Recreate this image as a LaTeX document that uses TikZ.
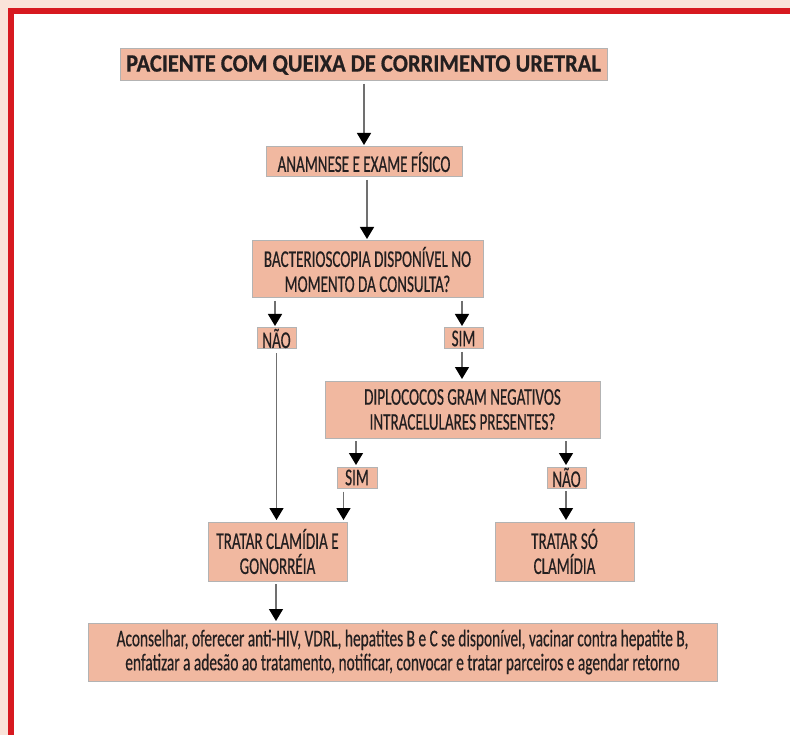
\documentclass[tikz,border=0pt]{standalone}
\usepackage{fontspec}
\setmainfont{Carlito}[FakeStretch=0.63,FakeBold=0.4]
\newfontfamily\finalfont{Carlito}[FakeStretch=0.64,FakeBold=0.4]
\newfontfamily\titlefont{Carlito Bold}[FakeStretch=0.9,FakeBold=0.6]
\usetikzlibrary{arrows.meta}
\definecolor{pagebg}{HTML}{FAE3D9}
\definecolor{frame}{HTML}{D71920}
\definecolor{boxfill}{HTML}{F1B8A0}
\definecolor{boxline}{HTML}{B3B3B3}
\definecolor{ink}{HTML}{231F20}
\definecolor{shaft}{HTML}{707070}
\begin{document}
\begin{tikzpicture}[x=1pt,y=-1pt,
  box/.style={rectangle,draw=boxline,fill=boxfill,line width=1pt,inner sep=0pt,align=center,text=ink,font=\fontsize{24}{25}\selectfont},
  conn/.style={draw=shaft,line width=1.3pt,shorten <=2.5pt,shorten >=1.5pt,-{Triangle[width=14pt,length=12pt,color=black,fill=black]}}]
\useasboundingbox (0,0) rectangle (790,735);
\fill[pagebg] (0,0) rectangle (790,735);
\fill[frame] (8,8) rectangle (790,735);
\fill[white] (14,14) rectangle (790,735);

\node[box,minimum width=487pt,minimum height=32pt,font=\titlefont\fontsize{25}{25}\selectfont] (title) at (363.5,65) {PACIENTE COM QUEIXA DE CORRIMENTO URETRAL};
\node[box,minimum width=196pt,minimum height=30pt] (anam) at (364,162) {ANAMNESE E EXAME FÍSICO};
\node[box,minimum width=231pt,minimum height=57pt] (bact) at (367.5,269.5) {BACTERIOSCOPIA DISPONÍVEL NO\\MOMENTO DA CONSULTA?};
\node[box,minimum width=39pt,minimum height=21pt] (nao1) at (276.5,338.5) {NÃO};
\node[box,minimum width=39pt,minimum height=21pt] (sim1) at (463.5,338.5) {SIM};
\node[box,minimum width=275pt,minimum height=57pt] (dip) at (462.5,409.5) {DIPLOCOCOS GRAM NEGATIVOS\\INTRACELULARES PRESENTES?};
\node[box,minimum width=40pt,minimum height=21pt] (sim2) at (357,477.5) {SIM};
\node[box,minimum width=39pt,minimum height=21pt] (nao2) at (566.5,477.5) {NÃO};
\node[box,minimum width=139pt,minimum height=59pt] (trat1) at (277.5,551.5) {TRATAR CLAMÍDIA E\\GONORRÉIA};
\node[box,minimum width=139pt,minimum height=59pt] (trat2) at (564.5,551.5) {TRATAR SÓ\\CLAMÍDIA};
\node[box,minimum width=629pt,minimum height=58pt,font=\finalfont\fontsize{24}{24}\selectfont] (final) at (402.5,652) {Aconselhar, oferecer anti-HIV, VDRL, hepatites B e C se disponível, vacinar contra hepatite B,\\enfatizar a adesão ao tratamento, notificar, convocar e tratar parceiros e agendar retorno};

\coordinate (c1) at ([xshift=0.5pt]title.south);
\coordinate (c2) at ([xshift=-0.5pt]bact.north);
\coordinate (c3) at ([xshift=-1.5pt]nao1.north);
\coordinate (c4) at ([xshift=-1.5pt]sim1.north);
\coordinate (c5) at ([xshift=-1pt]sim2.north);
\coordinate (c6) at ([xshift=-0.5pt]nao2.north);
\coordinate (c7) at ([xshift=-4pt]trat1.north east);
\coordinate (c8) at ([xshift=-1.5pt]trat1.south);

\draw[conn] (c1) -- (c1 |- anam.north);
\draw[conn] (c2 |- anam.south) -- (c2);
\draw[conn] (c3 |- bact.south) -- (c3);
\draw[conn] (c4 |- bact.south) -- (c4);
\draw[conn] (c4 |- sim1.south) -- (c4 |- dip.north);
\draw[conn,shorten <=4pt] (nao1.south) -- (nao1.south |- trat1.north);
\draw[conn] (c5 |- dip.south) -- (c5);
\draw[conn] (c6 |- dip.south) -- (c6);
\draw[conn,shorten <=3pt] (c7 |- sim2.south) -- (c7);
\draw[conn] (c6 |- nao2.south) -- (c6 |- trat2.north);
\draw[conn] (c8) -- (c8 |- final.north);
\end{tikzpicture}
\end{document}
